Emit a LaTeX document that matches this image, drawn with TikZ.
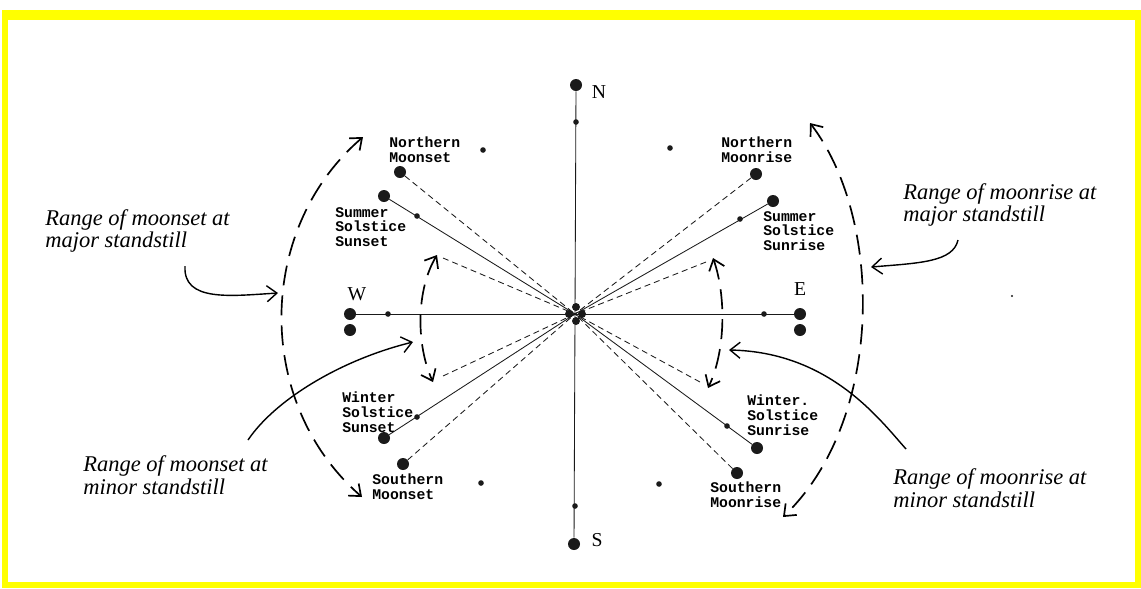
\documentclass[tikz,border=0pt]{standalone}
\usepackage{fontspec}
\setmainfont{Liberation Serif}
\newfontfamily\typefont{Liberation Mono}
\usetikzlibrary{arrows.meta}
\definecolor{frameyellow}{HTML}{FFFF00}
\definecolor{inkblack}{HTML}{1A1A1A}

\begin{document}
\begin{tikzpicture}[
    x=0.025cm, y=-0.025cm,
    bigdot/.style={circle, fill=inkblack, inner sep=0pt, minimum size=0.3cm},
    smalldot/.style={circle, fill=inkblack, inner sep=0pt, minimum size=0.14cm},
    hubdot/.style={circle, fill=inkblack, inner sep=0pt, minimum size=0.2cm},
    place/.style={font=\typefont\bfseries\fontsize{10.5}{10.5}\selectfont, align=left, inner sep=0pt, anchor=west},
    compass/.style={font=\fontsize{14}{14}\selectfont, inner sep=0pt},
    rangelabel/.style={font=\itshape\fontsize{16}{16}\selectfont, align=left, inner sep=0pt, anchor=west},
    ray/.style={line width=0.6pt, color=inkblack},
    dashray/.style={line width=0.6pt, color=inkblack, dash pattern=on 0.15cm off 0.1cm},
    rangearc/.style={line width=1.2pt, dash pattern=on 0.5cm off 0.25cm,
        {Straight Barb[length=0.25cm, width=0.4cm]}-{Straight Barb[length=0.25cm, width=0.4cm]}},
    pointer/.style={line width=1pt, -{Straight Barb[length=0.25cm, width=0.4cm]}},
]
\useasboundingbox (0,0) rectangle (1141,588);
\fill[frameyellow] (2,10) rectangle (1141,588);
\fill[white] (8,20) rectangle (1135,582);

% compass cross
\coordinate (c) at (575,314);
\node[bigdot] (ndot) at (576,85) {};
\node[bigdot] (sdot) at (574,544) {};
\node[bigdot] (wdot) at (350,314) {};
\node[bigdot] (edot) at (800,314) {};
\node[bigdot] (wdot2) at (350,330) {};
\node[bigdot] (edot2) at (800,330) {};
\node[smalldot] (nmark) at (576,122) {};
\node[smalldot] (smark) at (575,506) {};
\node[smalldot] (wmark) at (388,314) {};
\node[smalldot] (emark) at (764,314) {};
\node[hubdot] (hubw) at (569,314) {};
\node[hubdot] (hube) at (582,314) {};
\node[hubdot] (hubn) at (576,307) {};
\node[hubdot] (hubs) at (576,321) {};
\draw[ray] (ndot) -- (sdot);
\draw[ray] (wdot) -- (edot);
\node[compass] (nlabel) at (599,92) {N};
\node[compass] (slabel) at (597,540) {S};
\node[compass] (wlabel) at (357,294) {W};
\node[compass] (elabel) at (800,289) {E};

% setting points
\node[bigdot] (nmset) at (400,172) {};
\node[bigdot] (ssset) at (384,196) {};
\node[bigdot] (wsset) at (384,438) {};
\node[bigdot] (smset) at (403,464) {};
\node[bigdot] (nmrise) at (756,174) {};
\node[bigdot] (ssrise) at (773,201) {};
\node[bigdot] (wsrise) at (757,448) {};
\node[bigdot] (smrise) at (737,473) {};
\node[smalldot] (sssmark) at (417,216) {};
\node[smalldot] (wssmark) at (417,417) {};
\node[smalldot] (ssrmark) at (740,219) {};
\node[smalldot] (wsrmark) at (727,426) {};
\node[smalldot] (nwspot) at (483,150) {};
\node[smalldot] (swspot) at (481,483) {};
\node[smalldot] (nespot) at (670,148) {};
\node[smalldot] (sespot) at (659,484) {};
\node[circle, fill=inkblack, inner sep=0pt, minimum size=0.06cm] (speck) at (1012,296) {};

\draw[ray] (ssset) -- (c);
\draw[ray] (wsset) -- (c);
\draw[ray] (ssrise) -- (c);
\draw[ray] (wsrise) -- (c);
\draw[dashray] (nmset) -- (c);
\draw[dashray] (smset) -- (c);
\draw[dashray] (nmrise) -- (c);
\draw[dashray] (smrise) -- (c);

\node[place] (nmsetlabel) at (389,150) {Northern\\Moonset};
\node[place] (sssetlabel) at (335,227) {Summer\\Solstice\\Sunset};
\node[place] (wssetlabel) at (342,412) {Winter\\Solstice\\Sunset};
\node[place] (smsetlabel) at (372,487) {Southern\\Moonset};
\node[place] (nmriselabel) at (721,150) {Northern\\Moonrise};
\node[place] (ssriselabel) at (763,231) {Summer\\Solstice\\Sunrise};
\node[place] (wsriselabel) at (747,415) {Winter.\\Solstice\\Sunrise};
\node[place] (smriselabel) at (710,495) {Southern\\Moonrise};

% standstill ranges
\coordinate (minwtop) at (437,255);
\coordinate (minwbot) at (433,382);
\coordinate (minetop) at (713,258);
\coordinate (minebot) at (708,388);
\coordinate (majwtop) at (363,137);
\coordinate (majwbot) at (362,497);
\coordinate (majetop) at (810,123);
\coordinate (majebot) at (783,517);
\coordinate (minwtopray) at (443,258);
\coordinate (minwbotray) at (443,376);
\coordinate (minetopray) at (706,262);
\coordinate (minebotray) at (700,382);
\draw[dashray] (minwtopray) -- (c);
\draw[dashray] (minwbotray) -- (c);
\draw[dashray] (minetopray) -- (c);
\draw[dashray] (minebotray) -- (c);
\draw[rangearc] (majwtop) .. controls (255,230) and (255,404) .. (majwbot);
\draw[rangearc] (majetop) .. controls (884,220) and (884,420) .. (majebot);
\draw[rangearc] (minwtop) .. controls (416,290) and (416,345) .. (minwbot);
\draw[rangearc] (minetop) .. controls (726,295) and (726,350) .. (minebot);

\node[rangelabel] (setmajor) at (45,231) {Range of moonset at\\major standstill};
\node[rangelabel] (setminor) at (83,475) {Range of moonset at\\minor standstill};
\node[rangelabel] (risemajor) at (903,205) {Range of moonrise at\\major standstill};
\node[rangelabel] (riseminor) at (893,488) {Range of moonrise at\\minor standstill};
\coordinate (setmajorfoot) at (185,266);
\coordinate (setminorfoot) at (248,440);
\coordinate (risemajorfoot) at (958,240);
\coordinate (riseminorfoot) at (906,449);
\coordinate (setmajortip) at (278,293);
\coordinate (setminortip) at (413,342);
\coordinate (risemajortip) at (871,267);
\coordinate (riseminortip) at (729,350);
\draw[pointer] (setmajorfoot) .. controls (183,302) and (230,296) .. (setmajortip);
\draw[pointer] (setminorfoot) .. controls (275,400) and (340,360) .. (setminortip);
\draw[pointer] (risemajorfoot) .. controls (953,262) and (920,263) .. (risemajortip);
\draw[pointer] (riseminorfoot) .. controls (880,420) and (830,352) .. (riseminortip);
\end{tikzpicture}
\end{document}
